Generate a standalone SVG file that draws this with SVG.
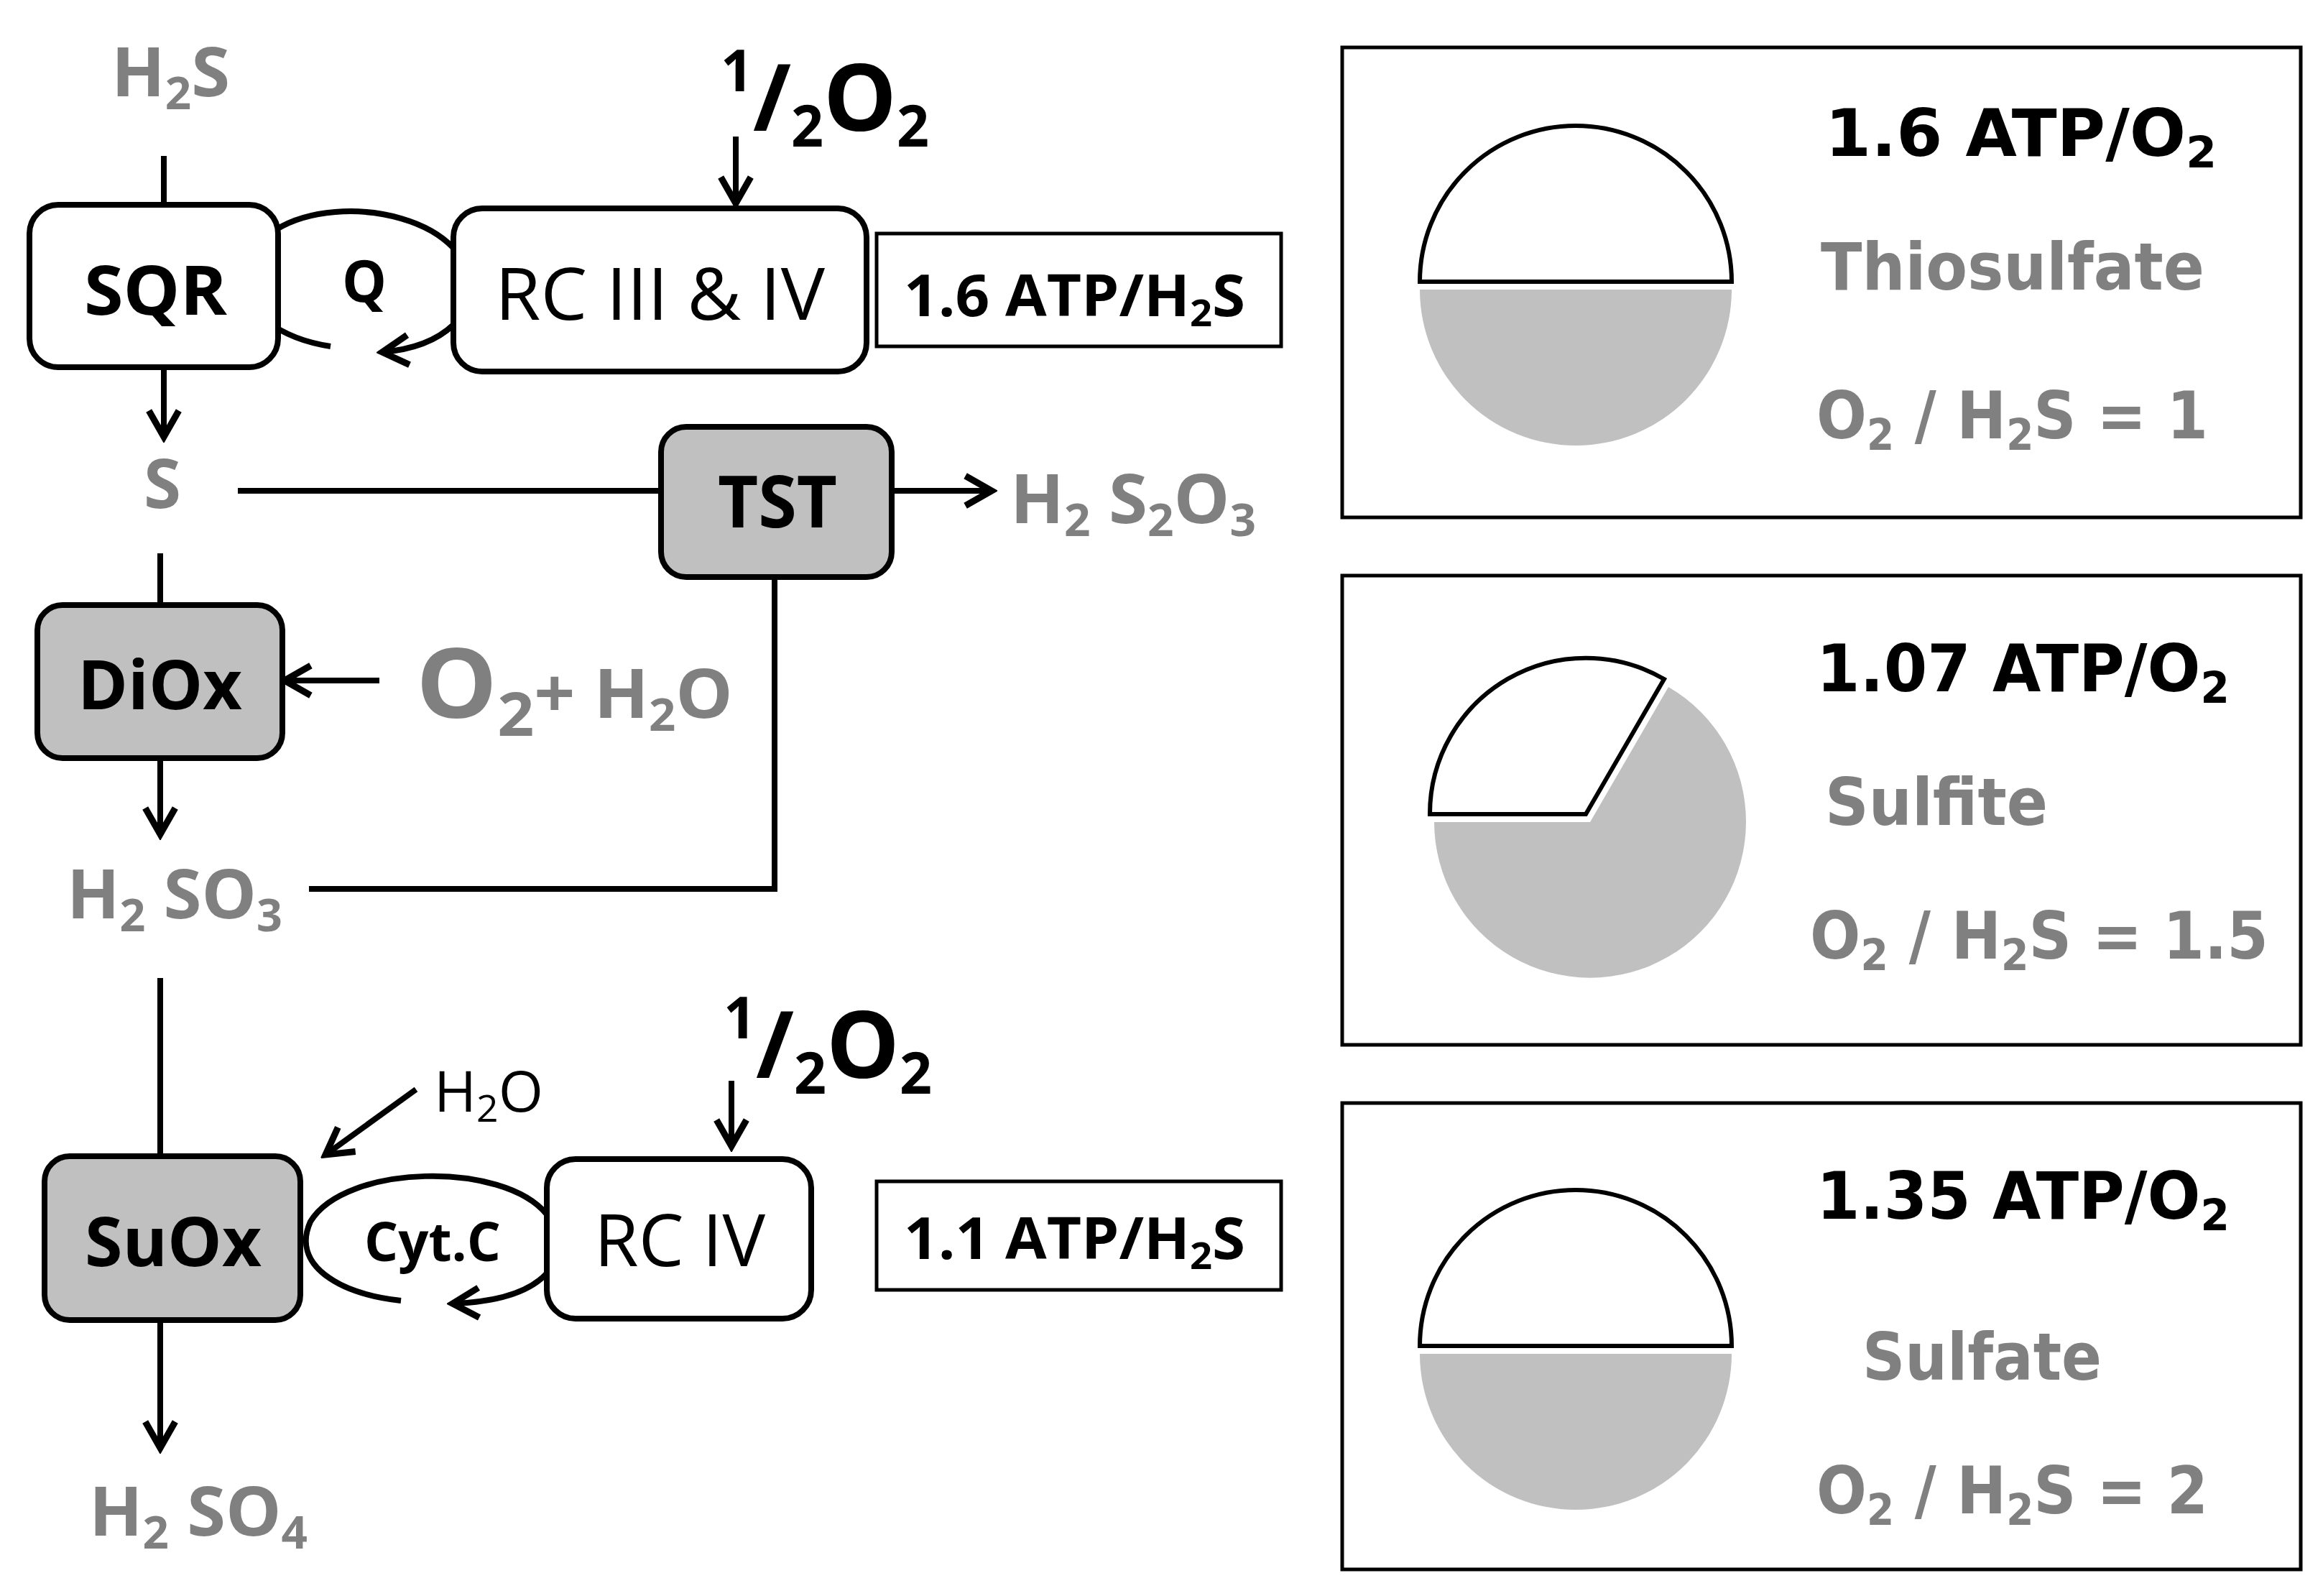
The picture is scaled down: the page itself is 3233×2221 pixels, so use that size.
<svg xmlns="http://www.w3.org/2000/svg" width="3233" height="2221" viewBox="0 0 3233 2221">
<defs>
<marker id="ah" viewBox="0 0 20 20" refX="17" refY="10" markerWidth="6.5" markerHeight="6.5" markerUnits="strokeWidth" orient="auto">
<polyline points="3,2 17,10 3,18" fill="none" stroke="#000" stroke-width="3.5"/>
</marker>
</defs>
<style>
.box{fill:#fff;stroke:#000;stroke-width:8}
.gbox{fill:#c0c0c0;stroke:#000;stroke-width:8}
.sq{fill:#fff;stroke:#000;stroke-width:5}
.ln{fill:none;stroke:#000;stroke-width:8}
.t{font-family:"Open Sans","Liberation Sans",sans-serif;fill:#000}
.b{font-weight:bold}
.g{fill:#808080}
.r{font-family:"DejaVu Sans","Liberation Sans",sans-serif;font-weight:bold}
.pw{fill:#fff;stroke:#000;stroke-width:6}
.pg{fill:#c0c0c0}
</style>
<rect width="3233" height="2221" fill="#fff"/>
<g id="connectors">
<line class="ln" x1="228" y1="217" x2="228" y2="285"/>
<line class="ln" x1="1024" y1="190" x2="1024" y2="283" marker-end="url(#ah)"/>
<path class="ln" d="M631,345 C560,270 360,275 340,380 C332,435 395,472 460,482"/>
<path class="ln" d="M631,452 C610,472 580,486 532,490" marker-end="url(#ah)"/>
<line class="ln" x1="228" y1="511" x2="228" y2="608" marker-end="url(#ah)"/>
<line class="ln" x1="331" y1="683" x2="920" y2="683"/>
<line class="ln" x1="1241" y1="683" x2="1380" y2="683" marker-end="url(#ah)"/>
<polyline class="ln" points="1078,803 1078,1237 430,1237"/>
<line class="ln" x1="223" y1="770" x2="223" y2="842"/>
<line class="ln" x1="528" y1="947" x2="396" y2="947" marker-end="url(#ah)"/>
<line class="ln" x1="223" y1="1055" x2="223" y2="1161" marker-end="url(#ah)"/>
<line class="ln" x1="223" y1="1361" x2="223" y2="1609"/>
<line class="ln" x1="579" y1="1516" x2="453" y2="1607" marker-end="url(#ah)"/>
<line class="ln" x1="1018" y1="1504" x2="1018" y2="1595" marker-end="url(#ah)"/>
<path class="ln" d="M761,1690 C700,1615 480,1620 432,1700 C405,1760 470,1800 558,1810"/>
<path class="ln" d="M761,1772 C735,1800 690,1812 630,1814" marker-end="url(#ah)"/>
<line class="ln" x1="223" y1="1837" x2="223" y2="2015" marker-end="url(#ah)"/>
</g>
<g id="labels-left">
<text class="t b g" x="155" y="134" font-size="95" textLength="165" lengthAdjust="spacingAndGlyphs">H<tspan font-size="62" dy="18">2</tspan><tspan dy="-18">S</tspan></text>
<text class="t b" x="1003" y="182" font-size="130" textLength="290" lengthAdjust="spacingAndGlyphs"><tspan font-size="80" dy="-55">1</tspan><tspan dy="55">/</tspan><tspan font-size="80" dy="22">2</tspan><tspan dy="-22">O</tspan><tspan font-size="80" dy="22">2</tspan></text>
<text class="t b g" x="200" y="707" font-size="95" textLength="52" lengthAdjust="spacingAndGlyphs">S</text>
<text class="t b g" x="1406" y="728" font-size="95" textLength="342" lengthAdjust="spacingAndGlyphs">H<tspan font-size="62" dy="18">2</tspan><tspan dy="-18"> S</tspan><tspan font-size="62" dy="18">2</tspan><tspan dy="-18">O</tspan><tspan font-size="62" dy="18">3</tspan></text>
<text class="t b g" x="579" y="999" font-size="135" textLength="441" lengthAdjust="spacingAndGlyphs">O<tspan font-size="85" dy="25">2</tspan><tspan font-size="95" dy="-25">+ H</tspan><tspan font-size="62" dy="18">2</tspan><tspan font-size="95" dy="-18">O</tspan></text>
<text class="t b g" x="93" y="1278" font-size="95" textLength="300" lengthAdjust="spacingAndGlyphs">H<tspan font-size="62" dy="18">2</tspan><tspan dy="-18"> SO</tspan><tspan font-size="62" dy="18">3</tspan></text>
<text class="t" x="604" y="1547" font-size="78" textLength="152" lengthAdjust="spacingAndGlyphs">H<tspan font-size="52" dy="14">2</tspan><tspan dy="-14">O</tspan></text>
<text class="t b" x="1007" y="1500" font-size="130" textLength="290" lengthAdjust="spacingAndGlyphs"><tspan font-size="80" dy="-55">1</tspan><tspan dy="55">/</tspan><tspan font-size="80" dy="22">2</tspan><tspan dy="-22">O</tspan><tspan font-size="80" dy="22">2</tspan></text>
<text class="t b g" x="124" y="2137" font-size="95" textLength="304" lengthAdjust="spacingAndGlyphs">H<tspan font-size="62" dy="18">2</tspan><tspan dy="-18"> SO</tspan><tspan font-size="62" dy="18">4</tspan></text>
</g>
<g id="SQR"><rect class="box" x="41" y="285" width="346" height="226" rx="40"/><text class="t b" x="117" y="438" font-size="95" textLength="199" lengthAdjust="spacingAndGlyphs">SQR</text></g>
<g id="Q"><text class="t b" x="476" y="420" font-size="80" textLength="62" lengthAdjust="spacingAndGlyphs">Q</text></g>
<g id="RC3and4"><rect class="box" x="631" y="290" width="575" height="227" rx="40"/><text class="t" x="689" y="445" font-size="100" textLength="459" lengthAdjust="spacingAndGlyphs">RC III &amp; IV</text></g>
<g id="atp1"><rect class="sq" x="1220" y="325" width="563" height="157"/><text class="t b" x="1258" y="440" font-size="80" textLength="475" lengthAdjust="spacingAndGlyphs">1.6 ATP/H<tspan font-size="52" dy="14">2</tspan><tspan dy="-14">S</tspan></text></g>
<g id="TST"><rect class="gbox" x="920" y="594" width="321" height="209" rx="35"/><text class="t b" x="999" y="734" font-size="100" textLength="166" lengthAdjust="spacingAndGlyphs">TST</text></g>
<g id="DiOx"><rect class="gbox" x="52" y="842" width="341" height="213" rx="35"/><text class="t b" x="108" y="987" font-size="95" textLength="229" lengthAdjust="spacingAndGlyphs">DiOx</text></g>
<g id="SuOx"><rect class="gbox" x="62" y="1609" width="356" height="228" rx="35"/><text class="t b" x="118" y="1762" font-size="95" textLength="246" lengthAdjust="spacingAndGlyphs">SuOx</text></g>
<g id="CytC"><text class="t b" x="507" y="1755" font-size="75" textLength="190" lengthAdjust="spacingAndGlyphs">Cyt.C</text></g>
<g id="RC4"><rect class="box" x="761" y="1613" width="368" height="222" rx="40"/><text class="t" x="827" y="1762" font-size="100" textLength="238" lengthAdjust="spacingAndGlyphs">RC IV</text></g>
<g id="atp2"><rect class="sq" x="1220" y="1644" width="563" height="151"/><text class="t b" x="1258" y="1752" font-size="80" textLength="475" lengthAdjust="spacingAndGlyphs">1.1 ATP/H<tspan font-size="52" dy="14">2</tspan><tspan dy="-14">S</tspan></text></g>
<g id="panel1">
<rect class="sq" x="1868" y="66" width="1334" height="654"/>
<path class="pg" d="M1976,403 A217,217 0 0 0 2410,403 Z"/>
<path class="pw" d="M1976,392 A217,217 0 0 1 2410,392 Z"/>
<text class="r" x="2540" y="217" font-size="90" textLength="545" lengthAdjust="spacingAndGlyphs">1.6  ATP/O<tspan font-size="60" dy="16">2</tspan></text>
<text class="r g" x="2534" y="403" font-size="90" textLength="534" lengthAdjust="spacingAndGlyphs">Thiosulfate</text>
<text class="r g" x="2528" y="610" font-size="90" textLength="545" lengthAdjust="spacingAndGlyphs">O<tspan font-size="60" dy="16">2</tspan><tspan dy="-16"> / H</tspan><tspan font-size="60" dy="16">2</tspan><tspan dy="-16">S = 1</tspan></text>
</g>
<g id="panel2">
<rect class="sq" x="1868" y="801" width="1334" height="653"/>
<path class="pg" d="M2213,1144 L1996,1144 A217,217 0 1 0 2322,956 Z"/>
<path class="pw" d="M2207,1133 L1990,1133 A217,217 0 0 1 2316,945 Z"/>
<text class="r" x="2528" y="962" font-size="90" textLength="575" lengthAdjust="spacingAndGlyphs">1.07 ATP/O<tspan font-size="60" dy="16">2</tspan></text>
<text class="r g" x="2540" y="1148" font-size="90" textLength="310" lengthAdjust="spacingAndGlyphs">Sulfite</text>
<text class="r g" x="2519" y="1334" font-size="90" textLength="638" lengthAdjust="spacingAndGlyphs">O<tspan font-size="60" dy="16">2</tspan><tspan dy="-16"> / H</tspan><tspan font-size="60" dy="16">2</tspan><tspan dy="-16">S = 1.5</tspan></text>
</g>
<g id="panel3">
<rect class="sq" x="1868" y="1535" width="1334" height="649"/>
<path class="pg" d="M1976,1884 A217,217 0 0 0 2410,1884 Z"/>
<path class="pw" d="M1976,1873 A217,217 0 0 1 2410,1873 Z"/>
<text class="r" x="2528" y="1696" font-size="90" textLength="575" lengthAdjust="spacingAndGlyphs">1.35 ATP/O<tspan font-size="60" dy="16">2</tspan></text>
<text class="r g" x="2592" y="1920" font-size="90" textLength="333" lengthAdjust="spacingAndGlyphs">Sulfate</text>
<text class="r g" x="2528" y="2106" font-size="90" textLength="545" lengthAdjust="spacingAndGlyphs">O<tspan font-size="60" dy="16">2</tspan><tspan dy="-16"> / H</tspan><tspan font-size="60" dy="16">2</tspan><tspan dy="-16">S = 2</tspan></text>
</g>
</svg>
